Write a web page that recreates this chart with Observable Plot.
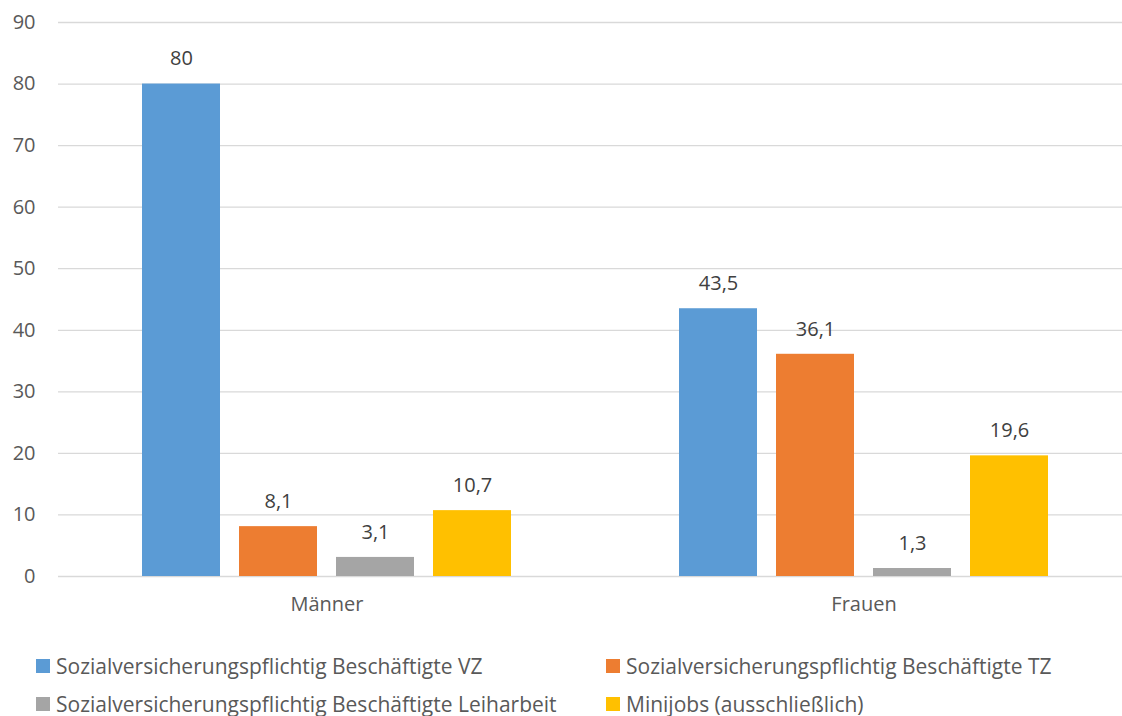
<!DOCTYPE html>
<html><head><meta charset="utf-8">
<script src="https://cdn.jsdelivr.net/npm/d3@7"></script>
<script src="https://cdn.jsdelivr.net/npm/@observablehq/plot@0.6"></script>
<style>
body{margin:0;background:#fff;font-family:"Open Sans",sans-serif;}
#legend{display:grid;grid-template-columns:570px auto;padding-left:36px;margin-top:22px;font-size:21px;color:#595959;row-gap:10px;}
.item{height:28px;display:flex;align-items:center;white-space:nowrap;}
.sw{width:14px;height:14px;margin-right:6px;flex:none;}
</style></head>
<body>
<div id="chart"></div>
<div id="legend"></div>
<script>
const groups = ["Männer", "Frauen"];
const series = [
  "Sozialversicherungspflichtig Beschäftigte VZ",
  "Sozialversicherungspflichtig Beschäftigte TZ",
  "Sozialversicherungspflichtig Beschäftigte Leiharbeit",
  "Minijobs (ausschließlich)"
];
const colors = ["#5B9BD5", "#ED7D31", "#A5A5A5", "#FFC000"];
const maennerValues = [80, 8.1, 3.1, 10.7];
const frauenValues = [43.5, 36.1, 1.3, 19.6];
const yTicks = [0, 10, 20, 30, 40, 50, 60, 70, 80, 90];

const data = [];
series.forEach((s, i) => {
  data.push({group: "Männer", series: s, value: maennerValues[i]});
  data.push({group: "Frauen", series: s, value: frauenValues[i]});
});
const fmt = v => String(v).replace(".", ",");

const chart = Plot.plot({
  width: 1122,
  height: 630,
  marginLeft: 58,
  marginRight: -10,
  marginTop: 22,
  marginBottom: 54,
  style: {fontFamily: "Open Sans, sans-serif", fontSize: "20px", color: "#595959", background: "#fff"},
  fx: {domain: groups, padding: 0},
  x: {domain: series, paddingInner: 0.2, paddingOuter: 0.85, axis: null},
  y: {domain: [0, 90]},
  color: {domain: series, range: colors},
  marks: [
    Plot.ruleY(yTicks, {stroke: "#D9D9D9", strokeWidth: 1.3}),
    Plot.axisY(yTicks, {tickSize: 0, tickPadding: 23, fontSize: 20, fill: "#595959", label: null, tickFormat: d => d}),
    Plot.axisFx({anchor: "bottom", tickSize: 0, tickPadding: 20, fontSize: 20, fill: "#595959", label: null}),
    Plot.barY(data, {fx: "group", x: "series", y: "value", fill: "series"}),
    Plot.text(data, {fx: "group", x: "series", y: "value", text: d => fmt(d.value), dy: -25, fill: "#404040", fontSize: 20, lineAnchor: "middle"})
  ]
});
document.getElementById("chart").appendChild(chart);

const leg = document.getElementById("legend");
series.forEach((s, i) => {
  const it = document.createElement("div");
  it.className = "item";
  it.innerHTML = `<span class="sw" style="background:${colors[i]}"></span><span>${s}</span>`;
  leg.appendChild(it);
});
</script>
</body></html>
